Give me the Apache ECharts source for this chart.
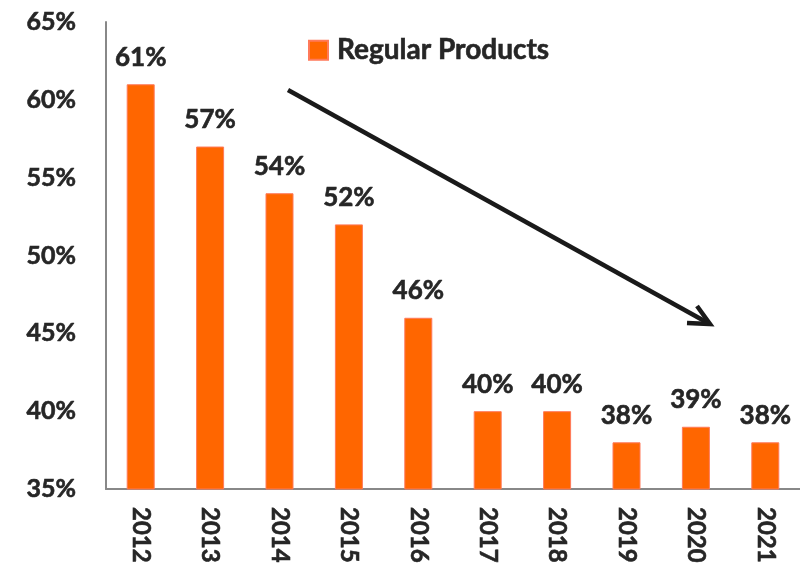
<!DOCTYPE html>
<html>
<head>
<meta charset="utf-8">
<script src="https://cdn.jsdelivr.net/npm/echarts@6/dist/echarts.min.js"></script>
<style>
  html, body { margin: 0; padding: 0; background: #fff; }
  #chart { width: 800px; height: 566px; }
</style>
</head>
<body>
<div id="chart"></div>
<script>
// chart data
const years = ['2012', '2013', '2014', '2015', '2016', '2017', '2018', '2019', '2020', '2021']
const regularShare = [61, 57, 54, 52, 46, 40, 40, 38, 39, 38]
const seriesName = 'Regular Products'

const font = 'Lato, "Open Sans", sans-serif'
const textColor = '#262626'
// a thin outline in the same colour makes Lato Bold look closer to the heavy original
const heavy = { textBorderColor: textColor, textBorderWidth: 0.6 }

const chart = echarts.init(document.getElementById('chart'))

chart.setOption({
  animation: false,
  textStyle: { fontFamily: font },
  grid: { left: 106, top: 22, width: 710, height: 472 },
  legend: {
    data: [seriesName],
    left: 303,
    top: 31,
    icon: 'rect',
    itemWidth: 19,
    itemHeight: 19,
    textStyle: Object.assign({ fontSize: 28, fontWeight: 'bold', color: textColor, fontFamily: font, padding: [0, 0, 0, 4] }, heavy)
  },
  xAxis: {
    type: 'category',
    data: years,
    axisLine: { lineStyle: { color: '#888', width: 2 } },
    axisTick: { show: false },
    axisLabel: Object.assign({
      rotate: -90,
      margin: 18,
      fontSize: 24,
      fontWeight: 'bold',
      color: textColor,
      fontFamily: font
    }, heavy)
  },
  yAxis: {
    type: 'value',
    min: 35,
    max: 65,
    interval: 5,
    axisLine: { show: true, lineStyle: { color: '#888', width: 2 } },
    axisTick: { show: false },
    splitLine: { show: false },
    axisLabel: Object.assign({
      formatter: '{value}%',
      margin: 30,
      fontSize: 25,
      fontWeight: 'bold',
      color: textColor,
      fontFamily: font
    }, heavy)
  },
  series: [{
    name: seriesName,
    type: 'bar',
    data: regularShare,
    barWidth: 28,
    itemStyle: { color: '#FF6600', borderColor: '#FF7a5a', borderWidth: 1 },
    label: Object.assign({
      show: true,
      position: 'top',
      distance: 14,
      formatter: '{c}%',
      fontSize: 26,
      fontWeight: 'bold',
      color: textColor,
      fontFamily: font
    }, heavy)
  }],
  // trend arrow drawn on top
  graphic: [
    {
      type: 'line',
      shape: { x1: 288, y1: 90, x2: 708, y2: 323 },
      style: { stroke: '#1a1a1a', lineWidth: 4.5 },
      z: 100
    },
    {
      type: 'polyline',
      shape: { points: [[687, 323], [710, 324], [697, 306]] },
      style: { stroke: '#1a1a1a', lineWidth: 4.5, fill: null, lineJoin: 'miter' },
      z: 100
    }
  ]
})
</script>
</body>
</html>
